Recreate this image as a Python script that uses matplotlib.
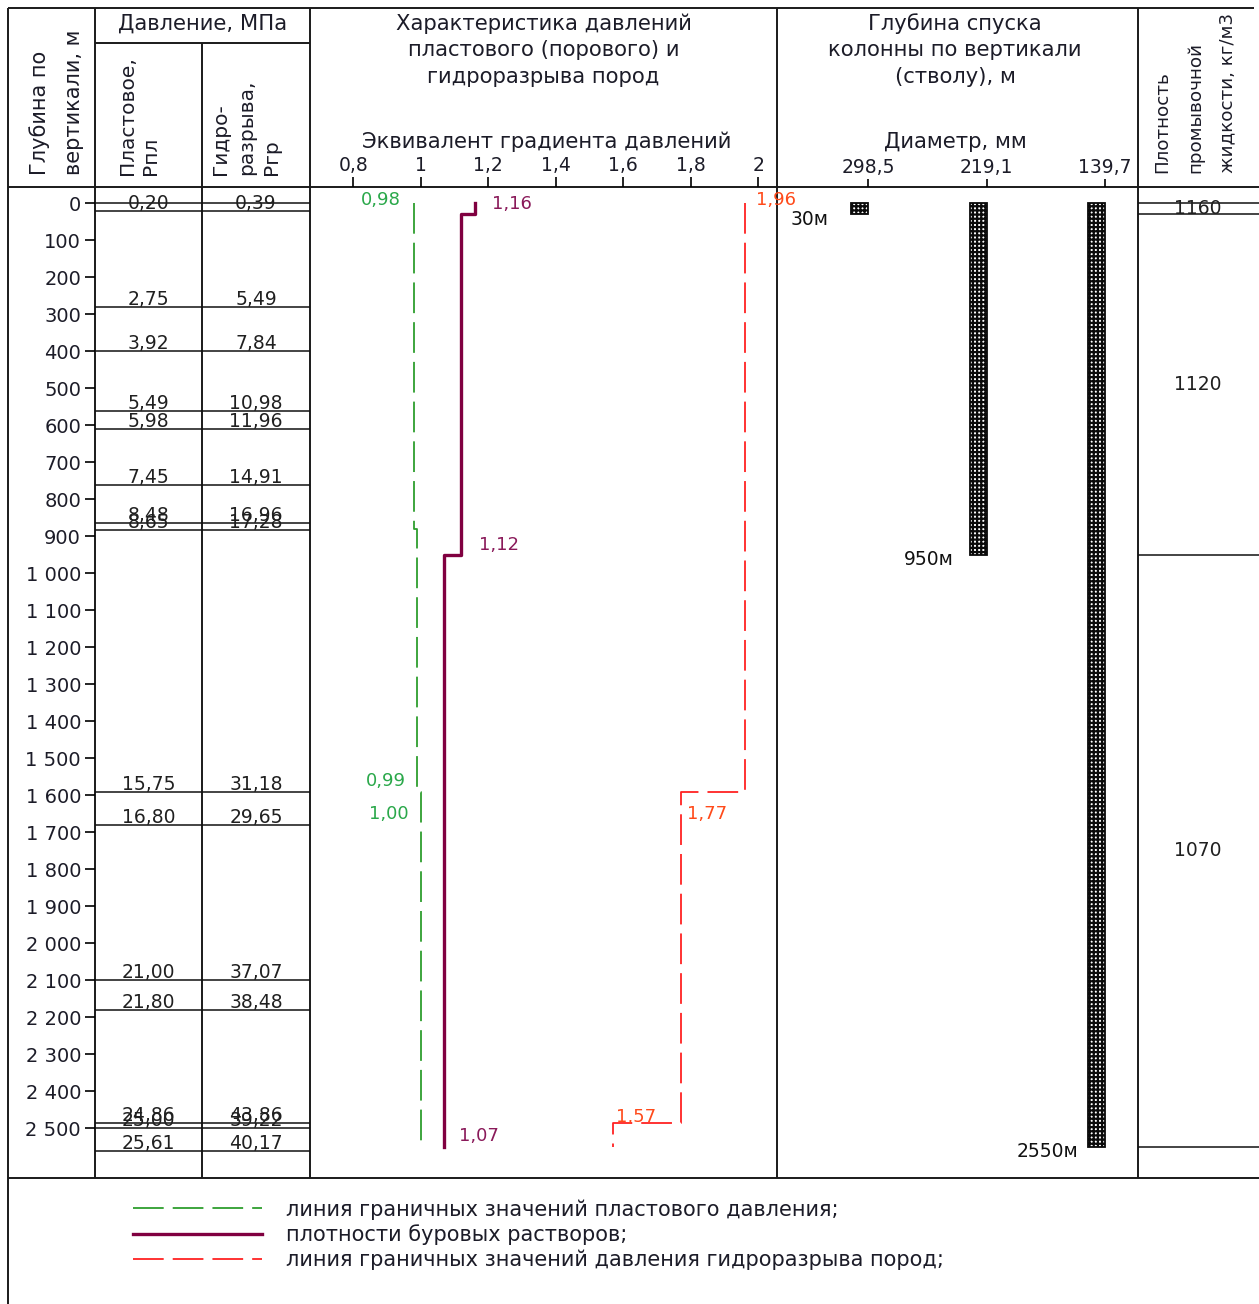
import matplotlib
matplotlib.use('Agg')
import matplotlib.pyplot as plt

plt.rcParams.update({
    'font.family': ['DejaVu Sans'],
    'font.size': 13,
    'hatch.linewidth': 1.6,
})

# ---- data ----
# pressure table: depth of each interval boundary (m), formation and frac pressure (MPa)
tab_depth = [20, 280, 400, 560, 610, 760, 865, 883, 1591, 1680, 2100, 2180, 2486, 2500, 2561]
p_pl = ['0,20', '2,75', '3,92', '5,49', '5,98', '7,45', '8,48', '8,65', '15,75', '16,80',
        '21,00', '21,80', '24,86', '25,00', '25,61']
p_gr = ['0,39', '5,49', '7,84', '10,98', '11,96', '14,91', '16,96', '17,28', '31,18', '29,65',
        '37,07', '38,48', '43,86', '39,22', '40,17']

# gradient intervals: (top, bottom, value)
pore_grad = [(0, 880, 0.98), (880, 1591, 0.99), (1591, 2550, 1.00)]
mud_grad = [(0, 30, 1.16), (30, 950, 1.12), (950, 2550, 1.07)]
frac_grad = [(0, 1591, 1.96), (1591, 2486, 1.77), (2486, 2550, 1.57)]

grad_ticks = [0.8, 1.0, 1.2, 1.4, 1.6, 1.8, 2.0]
grad_labels = ['0,8', '1', '1,2', '1,4', '1,6', '1,8', '2']

# casing strings
casing_diam = ['298,5', '219,1', '139,7']
casing_depth = [30, 950, 2550]

# drilling fluid density intervals
dens_top = [0, 30, 950]
dens_bot = [30, 950, 2550]
dens_val = ['1160', '1120', '1070']

# ---- layout (pixels) ----
W, H = 1259, 1304
D0_PX, PX_M = 203.3, 0.370
Y_TOP, Y_BOT = 187, 1178
ylim = ((Y_BOT - D0_PX) / PX_M, (Y_TOP - D0_PX) / PX_M)

C_GREEN = '#2e9e2e'
C_PURPLE = '#800040'
C_RED = '#ff2222'
TXT = '#1c1c28'


def px_box(x0, y0, x1, y1):
    return [x0 / W, 1 - y1 / H, (x1 - x0) / W, (y1 - y0) / H]


def steps(intervals):
    xs, ys = [], []
    for top, bot, v in intervals:
        xs += [v, v]
        ys += [top, bot]
    return xs, ys


fig = plt.figure(figsize=(W / 100, H / 100), dpi=100)

# background axes for frame and header text
bg = fig.add_axes([0, 0, 1, 1], zorder=0)
bg.set_xlim(0, W)
bg.set_ylim(H, 0)
bg.axis('off')

frame = [
    ((8, 1254), (8, 8)), ((8, 8), (8, 1304)),
    ((95, 95), (8, Y_BOT)), ((202, 202), (43, Y_BOT)), ((310, 310), (8, Y_BOT)),
    ((777, 777), (8, Y_BOT)), ((1138, 1138), (8, Y_BOT)),
    ((95, 310), (43, 43)), ((8, 1259), (Y_TOP, Y_TOP)), ((8, 1259), (Y_BOT, Y_BOT)),
]
for xs, ys in frame:
    bg.plot(xs, ys, color='#1a1a1a', lw=1.4, solid_capstyle='butt')

hfs = 15.2
bg.text(202.5, 24, 'Давление, МПа', ha='center', va='center', fontsize=hfs, color=TXT)
for i, s in enumerate(['Характеристика давлений', 'пластового (порового) и', 'гидроразрыва пород']):
    bg.text(543.5, 24 + 26.5 * i, s, ha='center', va='center', fontsize=hfs, color=TXT)
bg.text(547, 142, 'Эквивалент градиента давлений', ha='center', va='center', fontsize=hfs, color=TXT)
for i, s in enumerate(['Глубина спуска', 'колонны по вертикали', '(стволу), м']):
    bg.text(955, 24 + 26.5 * i, s, ha='center', va='center', fontsize=hfs, color=TXT)
bg.text(955, 142, 'Диаметр, мм', ha='center', va='center', fontsize=hfs, color=TXT)

rot_heads = [
    (40, 175, 'Глубина по', 15), (74, 175, 'вертикали, м', 15),
    (128, 175, 'Пластовое,', 14.5), (151, 175, 'Рпл', 14.5),
    (221, 175, 'Гидро-', 14.5), (247, 175, 'разрыва,', 14.5), (272, 175, 'Ргр', 14.5),
    (1162, 173, 'Плотность', 13.2), (1195, 173, 'промывочной', 13.2),
    (1227, 173, 'жидкости, кг/м3', 13.2),
]
for x, y, s, fs in rot_heads:
    bg.text(x, y, s, rotation=90, ha='center', va='bottom', fontsize=fs, color=TXT)

# ---- pressure table with depth axis ----
ax_tab = fig.add_axes(px_box(95, Y_TOP, 310, Y_BOT), zorder=1)
ax_tab.set_facecolor('none')
ax_tab.set_xlim(0, 1)
ax_tab.set_ylim(*ylim)
for sp in ax_tab.spines.values():
    sp.set_visible(False)
ax_tab.set_xticks([])
dticks = list(range(0, 2600, 100))
ax_tab.set_yticks(dticks)
ax_tab.set_yticklabels([f'{d:,}'.replace(',', ' ') for d in dticks])
ax_tab.tick_params(axis='y', direction='out', length=7, width=1.2, pad=3,
                   labelsize=14, labelcolor=TXT)
ax_tab.hlines([0] + tab_depth, 0, 1, color='#111111', lw=1.1)
for d, a, b in zip(tab_depth, p_pl, p_gr):
    ax_tab.annotate(a, (0.249, d), xytext=(0, 2), textcoords='offset pixels',
                    ha='center', va='baseline', fontsize=13.5, color='#202020')
    ax_tab.annotate(b, (0.749, d), xytext=(0, 2), textcoords='offset pixels',
                    ha='center', va='baseline', fontsize=13.5, color='#202020')

# ---- gradient chart ----
ax_g = fig.add_axes(px_box(310, Y_TOP, 777, Y_BOT), zorder=1)
ax_g.set_facecolor('none')
ax_g.set_xlim(0.6717, 2.0554)
ax_g.set_ylim(*ylim)
for sp in ax_g.spines.values():
    sp.set_visible(False)
ax_g.xaxis.tick_top()
ax_g.set_xticks(grad_ticks)
ax_g.set_xticklabels(grad_labels)
ax_g.set_yticks([])
ax_g.tick_params(axis='x', direction='out', length=7, width=1.2, pad=1.5,
                 labelsize=13.5, labelcolor=TXT)

dash = (0, (17, 5))
xs, ys = steps(pore_grad)
l_pore, = ax_g.plot(xs, ys, color=C_GREEN, lw=1.3, linestyle=dash)
xs, ys = steps(mud_grad)
l_mud, = ax_g.plot(xs, ys, color=C_PURPLE, lw=2.4)
xs, ys = steps(frac_grad)
l_frac, = ax_g.plot(xs, ys, color=C_RED, lw=1.3, linestyle=dash)

lab_kw = dict(textcoords='offset pixels', ha='center', va='center', fontsize=13,
              annotation_clip=False)
ax_g.annotate('0,98', (pore_grad[0][2], pore_grad[0][0]), xytext=(-33, 3), color='#2aa84a', **lab_kw)
ax_g.annotate('0,99', (pore_grad[1][2], pore_grad[1][1]), xytext=(-32, 11), color='#2aa84a', **lab_kw)
ax_g.annotate('1,00', (pore_grad[2][2], pore_grad[2][0]), xytext=(-32, -22), color='#2aa84a', **lab_kw)
ax_g.annotate('1,16', (mud_grad[0][2], mud_grad[0][0]), xytext=(37, -1), color='#8a1a5a', **lab_kw)
ax_g.annotate('1,12', (mud_grad[1][2], mud_grad[1][1]), xytext=(38, 10), color='#8a1a5a', **lab_kw)
ax_g.annotate('1,07', (mud_grad[2][2], mud_grad[2][1]), xytext=(35, 11), color='#8a1a5a', **lab_kw)
ax_g.annotate('1,96', (frac_grad[0][2], frac_grad[0][0]), xytext=(31, 3), color='#ff4a1a', **lab_kw)
ax_g.annotate('1,77', (frac_grad[1][2], frac_grad[1][0]), xytext=(26, -22), color='#ff4a1a', **lab_kw)
ax_g.annotate('1,57', (frac_grad[2][2], frac_grad[2][0]), xytext=(23, 6), color='#ff4a1a', **lab_kw)

# ---- casing depths ----
ax_c = fig.add_axes(px_box(777, Y_TOP, 1138, Y_BOT), zorder=1)
ax_c.set_facecolor('none')
ax_c.set_xlim(-0.768, 2.278)
ax_c.set_ylim(*ylim)
for sp in ax_c.spines.values():
    sp.set_visible(False)
pos = list(range(len(casing_diam)))
ax_c.xaxis.tick_top()
ax_c.set_xticks(pos)
ax_c.set_xticklabels(casing_diam)
ax_c.set_yticks([])
ax_c.tick_params(axis='x', direction='out', length=6, width=1.2, pad=1.5,
                 labelsize=13.5, labelcolor=TXT)
bw = -17 / 118.5
ax_c.bar(pos, casing_depth, width=bw, align='edge', bottom=0, facecolor='white',
         edgecolor='#0a0a0a', hatch='++++', lw=0)
ax_c.bar(pos, casing_depth, width=bw, align='edge', bottom=0, fill=False,
         edgecolor='#0a0a0a', lw=1.3)
for p, d in zip(pos, casing_depth):
    ax_c.annotate(f'{d}м', (p, d), xytext=(-58, -5), textcoords='offset pixels',
                  ha='center', va='center', fontsize=13.5, color='#111111')

# ---- fluid density ----
ax_d = fig.add_axes(px_box(1138, Y_TOP, 1259, Y_BOT), zorder=1)
ax_d.set_facecolor('none')
ax_d.set_xlim(0, 1)
ax_d.set_ylim(*ylim)
ax_d.axis('off')
ax_d.hlines(sorted(set(dens_top + dens_bot)), 0, 1, color='#111111', lw=1.1)
for t, b, v in zip(dens_top, dens_bot, dens_val):
    ax_d.text(0.49, (t + b) / 2, v, ha='center', va='center', fontsize=13.5, color='#202020')

# ---- legend ----
fig.legend([l_pore, l_mud, l_frac],
           ['линия граничных значений пластового давления;',
            'плотности буровых растворов;',
            'линия граничных значений давления гидроразрыва пород;'],
           loc='upper left', bbox_to_anchor=(133 / W, 1 - 1199 / H),
           frameon=False, borderpad=0, borderaxespad=0, fontsize=15,
           handlelength=6.2, handletextpad=1.15, labelspacing=0.23,
           labelcolor=TXT)

fig.savefig('out.png', dpi=100, facecolor='white')
